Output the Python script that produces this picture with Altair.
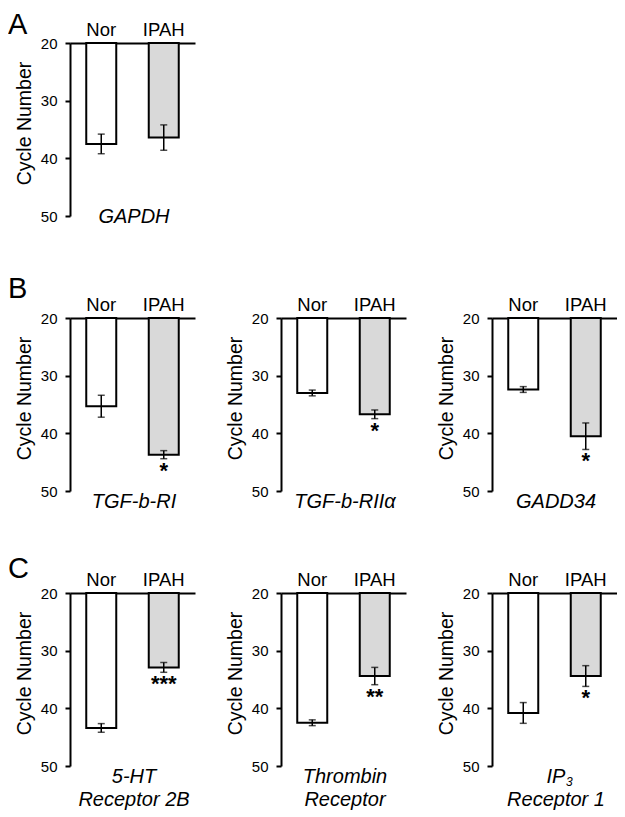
import altair as alt
import pandas as pd

groups = ["Nor", "IPAH"]
genes = ["GAPDH", "TGF-b-RI", "TGF-b-RIIα", "GADD34",
         "5-HT\nReceptor 2B", "Thrombin\nReceptor", "IP\nReceptor 1"]
gene_sub = ["", "", "", "", "", "", "3"]
nor_mean = [37.5, 35.3, 33.0, 32.4, 43.4, 42.5, 40.8]
nor_err = [1.7, 1.9, 0.5, 0.5, 0.75, 0.5, 1.8]
ipah_mean = [36.4, 43.7, 36.7, 40.5, 32.9, 34.4, 34.4]
ipah_err = [2.2, 0.7, 0.75, 2.3, 0.85, 1.5, 1.8]
ipah_sig = ["", "*", "*", "*", "***", "**", "*"]
y_ticks = [20, 30, 40, 50]
letters = ["A", "B", "C"]

FONT = "Liberation Sans, Arial, sans-serif"
NARROW = "Liberation Sans Narrow, Arial Narrow, Liberation Sans, Arial, sans-serif"
W, H = 125, 173


def panel(i, letter=None, letter_y=-14, gene_y=190):
    df = pd.DataFrame({
        "group": groups,
        "mean": [nor_mean[i], ipah_mean[i]],
        "err": [nor_err[i], ipah_err[i]],
        "sig": ["", ipah_sig[i]],
    })
    df["lo"] = df["mean"] - df["err"]
    df["hi"] = df["mean"] + df["err"]
    base = alt.Chart(df)
    xs = alt.Scale(domain=groups, paddingInner=0.52, paddingOuter=0.26)
    x = alt.X("group:N", scale=xs, sort=groups,
              axis=alt.Axis(orient="top", title=None, labelAngle=0, ticks=False,
                            labelFontSize=18.5, labelFont=NARROW, labelColor="black",
                            labelPadding=4, domainColor="black", domainWidth=2))
    ys = alt.Scale(domain=[20, 50], reverse=True, nice=False)
    bars = base.mark_bar(stroke="black", strokeWidth=2).encode(
        x=x,
        y=alt.Y("mean:Q", scale=ys,
                axis=alt.Axis(values=y_ticks, title="Cycle Number", titleFontSize=19.5,
                              titleFont=FONT, titleFontWeight="normal", titleColor="black",
                              titlePadding=6, titleY=80,
                              labelFontSize=15, labelFont=FONT, labelColor="black",
                              labelPadding=8, tickSize=5, tickWidth=2, tickColor="black",
                              domainColor="black", domainWidth=2, grid=False)),
        y2=alt.datum(20),
        fill=alt.Fill("group:N", scale=alt.Scale(domain=groups, range=["white", "#d9d9d9"]),
                      legend=None),
    )
    xe = alt.X("group:N", scale=xs, sort=groups)
    rule = base.mark_rule(strokeWidth=1.5, color="black").encode(
        x=xe, y=alt.Y("lo:Q", scale=ys), y2="hi:Q")
    cap_lo = base.mark_tick(size=7, thickness=1.5, color="black").encode(
        x=xe, y=alt.Y("lo:Q", scale=ys))
    cap_hi = base.mark_tick(size=7, thickness=1.5, color="black").encode(
        x=xe, y=alt.Y("hi:Q", scale=ys))
    stars = base.mark_text(fontSize=22, fontWeight="bold", font=FONT, baseline="alphabetic",
                           dy=19, color="black").encode(
        x=xe, y=alt.Y("hi:Q", scale=ys), text="sig:N")
    gdf = pd.DataFrame({"g": [genes[i]], "s": [gene_sub[i]]})
    gene = alt.Chart(gdf).mark_text(fontSize=20, font=NARROW, fontStyle="italic",
                                    lineBreak="\n", lineHeight=23, baseline="alphabetic",
                                    color="black").encode(
        x=alt.value(64), y=alt.value(gene_y), text="g:N")
    layers = [bars, rule, cap_lo, cap_hi, stars, gene]
    if gene_sub[i]:
        sub = alt.Chart(gdf).mark_text(fontSize=12, font=NARROW, fontStyle="italic",
                                       align="left", baseline="alphabetic", color="black",
                                       dx=10, dy=3).encode(
            x=alt.value(64), y=alt.value(gene_y), text="s:N")
        layers.append(sub)
    if letter:
        ldf = pd.DataFrame({"t": [letter]})
        lt = alt.Chart(ldf).mark_text(fontSize=29, font=FONT, align="left",
                                      baseline="alphabetic", color="black").encode(
            x=alt.value(-62), y=alt.value(letter_y), text="t:N")
        layers.append(lt)
    return alt.layer(*layers).properties(width=W, height=H)


rowA = alt.hconcat(panel(0, letters[0], -9, 180), spacing=30)
rowB = alt.hconcat(panel(1, letters[1], -20), panel(2), panel(3), spacing=30)
rowC = alt.hconcat(panel(4, letters[2], -15), panel(5), panel(6), spacing=30)

top_two = alt.vconcat(rowA, rowB, spacing=48)
chart = alt.vconcat(top_two, rowC, spacing=43).properties(
    padding={"top": 3, "left": 0, "right": 0, "bottom": 0}).configure_view(stroke=None)

chart.save("out.html", embed_options={"renderer": "svg", "actions": False})
